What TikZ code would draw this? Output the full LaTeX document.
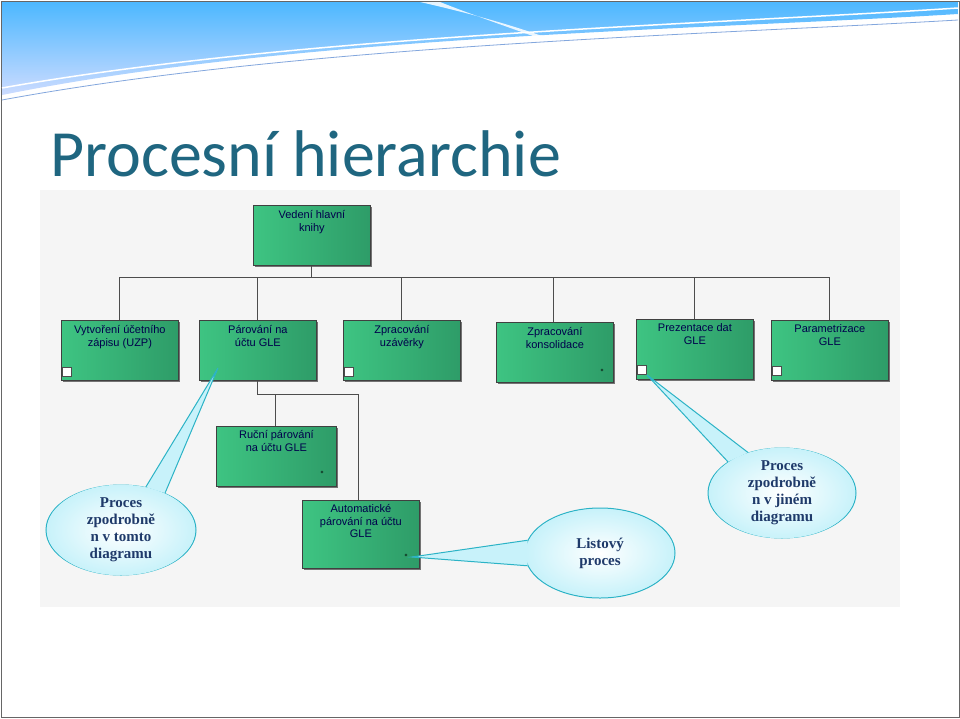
\documentclass[tikz,border=0pt]{standalone}
\usepackage{fontspec}
\setmainfont{Carlito}
\newfontfamily\callfont{Liberation Serif}
\newfontfamily\boxfont{Liberation Sans}
\usetikzlibrary{shapes.geometric,shadows}
\definecolor{titleblue}{HTML}{1F6680}
\definecolor{boxgreen}{HTML}{3EC482}
\definecolor{boxgreenD}{HTML}{2E9C68}
\definecolor{calltext}{HTML}{1F3A6A}
\definecolor{callfill}{HTML}{C8F2FA}
\definecolor{callline}{HTML}{2BB3C6}
\tikzset{
  procbox/.style={draw=black!75,line width=0.8pt,left color=boxgreen,right color=boxgreenD,
    minimum width=117pt,minimum height=60pt,anchor=north west,
    drop shadow={shadow xshift=2pt,shadow yshift=-2pt,fill=black!55,opacity=1}},
  boxtext/.style={font=\boxfont\fontsize{11}{12.5}\selectfont,text=black!70!blue,align=center,anchor=north},
  conn/.style={draw=black!70,line width=0.9pt},
  callout/.style={ellipse,draw=callline,line width=1pt,inner color=white,outer color=callfill,
    font=\callfont\bfseries\fontsize{15}{17}\selectfont,text=calltext,align=center,inner sep=0pt},
  tail/.style={draw=callline,line width=1pt,fill=callfill},
  icon/.style={draw=black!70,fill=white,minimum size=9pt,inner sep=0pt,line width=0.5pt}
}
\begin{document}
\begin{tikzpicture}[x=1pt,y=-1pt]
\useasboundingbox (0,0) rectangle (960,718);
\fill[white] (0,0) rectangle (960,718);
\draw[black!60,line width=0.8pt] (1,1) rectangle (959,717);
% top swoosh
\shade[top color=cyan!60!blue!70,bottom color=cyan!30!blue!20] (2,2) -- (958,2) -- (958,14) .. controls (700,30) and (300,35) .. (2,95) -- cycle;
\fill[white,opacity=0.85] (420,2) .. controls (500,20) and (560,40) .. (600,60) .. controls (540,38) and (480,18) .. (440,2) -- cycle;
\draw[white,line width=1.5pt] (2,88) .. controls (300,35) and (700,25) .. (958,8);
\draw[cyan!50!blue!50,line width=0.8pt] (2,100) .. controls (300,45) and (700,35) .. (958,20);
% title
\node[anchor=base west,text=titleblue,font=\fontsize{66}{68}\selectfont,inner sep=0pt] (title) at (50,176) {Procesní hierarchie};
% panel
\fill[black!4] (40,190) rectangle (900,607);
% boxes
\node[procbox] (root) at (253,205) {};
\node[procbox] (a) at (61,320) {};
\node[procbox] (b) at (199,320) {};
\node[procbox] (c) at (343,320) {};
\node[procbox] (d) at (496,322) {};
\node[procbox] (e) at (636,319) {};
\node[procbox] (f) at (771,320) {};
\node[procbox,minimum height=60pt,minimum width=120pt] (g) at (216,426) {};
\node[procbox,minimum height=68pt] (h) at (302,500) {};
\node[boxtext] (troot) at ([yshift=-2pt]root.north) {Vedení hlavní\\knihy};
\node[boxtext] (ta) at ([yshift=-2pt]a.north) {Vytvoření účetního\\zápisu (UZP)};
\node[boxtext] (tb) at ([yshift=-2pt]b.north) {Párování na\\účtu GLE};
\node[boxtext] (tc) at ([yshift=-2pt]c.north) {Zpracování\\uzávěrky};
\node[boxtext] (td) at ([yshift=-2pt]d.north) {Zpracování\\konsolidace};
\node[boxtext] (te) at ([yshift=-1pt]e.north) {Prezentace dat\\GLE};
\node[boxtext] (tf) at ([yshift=-1pt]f.north) {Parametrizace\\GLE};
\node[boxtext] (tg) at ([yshift=-1pt]g.north) {Ruční párování\\na účtu GLE};
\node[boxtext] (th) at ([yshift=-1pt]h.north) {Automatické\\párování na účtu\\GLE};
\node[font=\small] (sd) at (602,372) {*};
\node[font=\small] (sg) at (322,474) {*};
\node[font=\small] (sh) at (406,557) {*};
\node[icon] (ia) at (67,372) {};
\node[icon] (ic) at (349,372) {};
\node[icon] (ie) at (642,370) {};
\node[icon] (if) at (777,371) {};
% connectors
\coordinate (bus) at (311,277);
\draw[conn] (root.south -| bus) -- (bus);
\draw[conn] (119,277) -- (829,277);
\draw[conn] (119,277) -- (a.north -| 119,0);
\draw[conn] (257,277) -- (b.north -| 257,0);
\draw[conn] (401,277) -- (c.north -| 401,0);
\draw[conn] (553,277) -- (d.north -| 553,0);
\draw[conn] (694,277) -- (e.north -| 694,0);
\draw[conn] (829,277) -- (f.north -| 829,0);
\draw[conn] (b.south -| 257,0) -- (257,394) -- (358,394) -- (h.north -| 358,0);
\draw[conn] (275,394) -- (g.north -| 275,0);
% callouts
\node[callout,minimum width=150pt,minimum height=90pt] (c1) at (121,530) {};
\node[callout,minimum width=150pt,minimum height=90pt] (c2) at (600,553) {};
\node[callout,minimum width=148pt,minimum height=90pt] (c3) at (782,493) {};
\filldraw[tail] (c1.60) -- (218,368) -- (c1.40);
\filldraw[tail] (c2.170) -- (sh.east) -- (c2.190);
\filldraw[tail] (c3.150) -- (ie.south east) -- (c3.130);
\node[callout,draw=none,minimum width=148pt,minimum height=88pt] (t1) at (121,530) {Proces\\zpodrobně\\n v tomto\\diagramu};
\node[callout,draw=none,minimum width=148pt,minimum height=88pt] (t2) at (600,553) {Listový\\proces};
\node[callout,draw=none,minimum width=146pt,minimum height=88pt] (t3) at (782,493) {Proces\\zpodrobně\\n v jiném\\diagramu};
\end{tikzpicture}
\end{document}
